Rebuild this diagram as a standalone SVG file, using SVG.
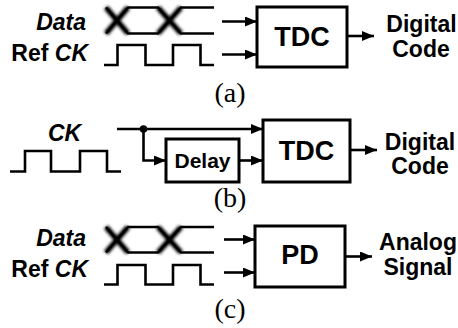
<svg xmlns="http://www.w3.org/2000/svg" width="458" height="328" viewBox="0 0 458 328">
<style>
.w{fill:none;stroke:#000;stroke-width:2.6;stroke-linejoin:miter}
.box{fill:#fff;stroke:#000;stroke-width:3}
.c{fill:none;stroke:#000;stroke-width:2.6}
.t{font-family:"Liberation Sans",Arial,sans-serif;font-weight:bold;fill:#000}
.i{font-style:italic}
.s{font-family:"Liberation Serif","Times New Roman",serif;font-size:28px;fill:#000;text-anchor:middle}
.x{fill:none;stroke:#000;stroke-width:5.5;filter:url(#blur)}
</style>
<defs>
<marker id="ah" markerUnits="userSpaceOnUse" markerWidth="12" markerHeight="10" refX="12" refY="5" orient="auto">
<path d="M0,0 L12,5 L0,10 z" fill="#000"/>
</marker>
<filter id="blur" x="-20%" y="-20%" width="140%" height="140%"><feGaussianBlur stdDeviation="1.4"/></filter>
</defs>

<g id="waveforms">
<g id="data-a">
<path class="x" d="M106,7.5 L128,33.5 M106,33.5 L128,7.5 M158,7.5 L181,33.5 M158,33.5 L181,7.5"/>
<path class="w" d="M106,7.5 L128,33.5 L158,33.5 L181,7.5 L214,7.5 M106,33.5 L128,7.5 L158,7.5 L181,33.5 L214,33.5"/>
</g>
<path id="refck-a" class="w" d="M104,65 H117.5 V45 H145.5 V65 H173 V45 H200.5 V65 H214"/>
<path id="ck-b" class="w" d="M10,171.5 H25 V151 H51 V171.5 H80 V151 H107 V171.5 H121"/>
<g id="data-c">
<path class="x" d="M106,227 L128,252.5 M106,252.5 L128,227 M158,227 L181,252.5 M158,252.5 L181,227"/>
<path class="w" d="M106,227 L128,252.5 L158,252.5 L181,227 L214,227 M106,252.5 L128,227 L158,227 L181,252.5 L214,252.5"/>
</g>
<path id="refck-c" class="w" d="M104,284.5 H117.5 V265 H145.5 V284.5 H173 V265 H200.5 V284.5 H214"/>
</g>

<g id="connectors">
<line class="c" x1="222" y1="21.5" x2="257" y2="21.5" marker-end="url(#ah)"/>
<line class="c" x1="222" y1="54.5" x2="257" y2="54.5" marker-end="url(#ah)"/>
<line class="c" x1="347" y1="36" x2="374" y2="36" marker-end="url(#ah)"/>
<line class="c" x1="117" y1="129" x2="263" y2="129" marker-end="url(#ah)"/>
<path class="c" d="M143.5,129 V160.5 H166" marker-end="url(#ah)"/>
<circle cx="143.5" cy="129" r="3.8" fill="#000"/>
<line class="c" x1="239" y1="160.5" x2="263" y2="160.5" marker-end="url(#ah)"/>
<line class="c" x1="350" y1="150" x2="377" y2="150" marker-end="url(#ah)"/>
<line class="c" x1="224" y1="239.5" x2="255" y2="239.5" marker-end="url(#ah)"/>
<line class="c" x1="224" y1="272.5" x2="255" y2="272.5" marker-end="url(#ah)"/>
<line class="c" x1="345" y1="256.5" x2="372" y2="256.5" marker-end="url(#ah)"/>
</g>

<g id="tdc-a">
<rect class="box" x="257" y="7" width="90" height="60"/>
<text class="t" x="302" y="45.5" font-size="27" text-anchor="middle">TDC</text>
</g>
<g id="delay-b">
<rect class="box" x="166" y="139" width="73" height="43"/>
<text class="t" x="202.5" y="167.5" font-size="21" text-anchor="middle">Delay</text>
</g>
<g id="tdc-b">
<rect class="box" x="263" y="120" width="87" height="62"/>
<text class="t" x="306.5" y="159.5" font-size="27" text-anchor="middle">TDC</text>
</g>
<g id="pd-c">
<rect class="box" x="255" y="226" width="90" height="61"/>
<text class="t" x="300" y="264" font-size="27" text-anchor="middle">PD</text>
</g>

<g id="labels">
<text class="t i" x="86" y="30" font-size="23" text-anchor="end">Data</text>
<text class="t" x="88" y="61" font-size="23" text-anchor="end">Ref <tspan class="i">CK</tspan></text>
<text class="t" x="421.5" y="32" font-size="23" text-anchor="middle">Digital</text>
<text class="t" x="421" y="57" font-size="23" text-anchor="middle">Code</text>
<text class="t i" x="64.5" y="141" font-size="23" text-anchor="middle">CK</text>
<text class="t" x="420" y="150" font-size="23" text-anchor="middle">Digital</text>
<text class="t" x="420" y="173.5" font-size="23" text-anchor="middle">Code</text>
<text class="t i" x="86" y="245.5" font-size="23" text-anchor="end">Data</text>
<text class="t" x="88" y="277" font-size="23" text-anchor="end">Ref <tspan class="i">CK</tspan></text>
<text class="t" x="418" y="250" font-size="23" text-anchor="middle">Analog</text>
<text class="t" x="418" y="275" font-size="23" text-anchor="middle">Signal</text>
<text class="s" x="230" y="102">(a)</text>
<text class="s" x="230" y="207">(b)</text>
<text class="s" x="230" y="318">(c)</text>
</g>
</svg>
